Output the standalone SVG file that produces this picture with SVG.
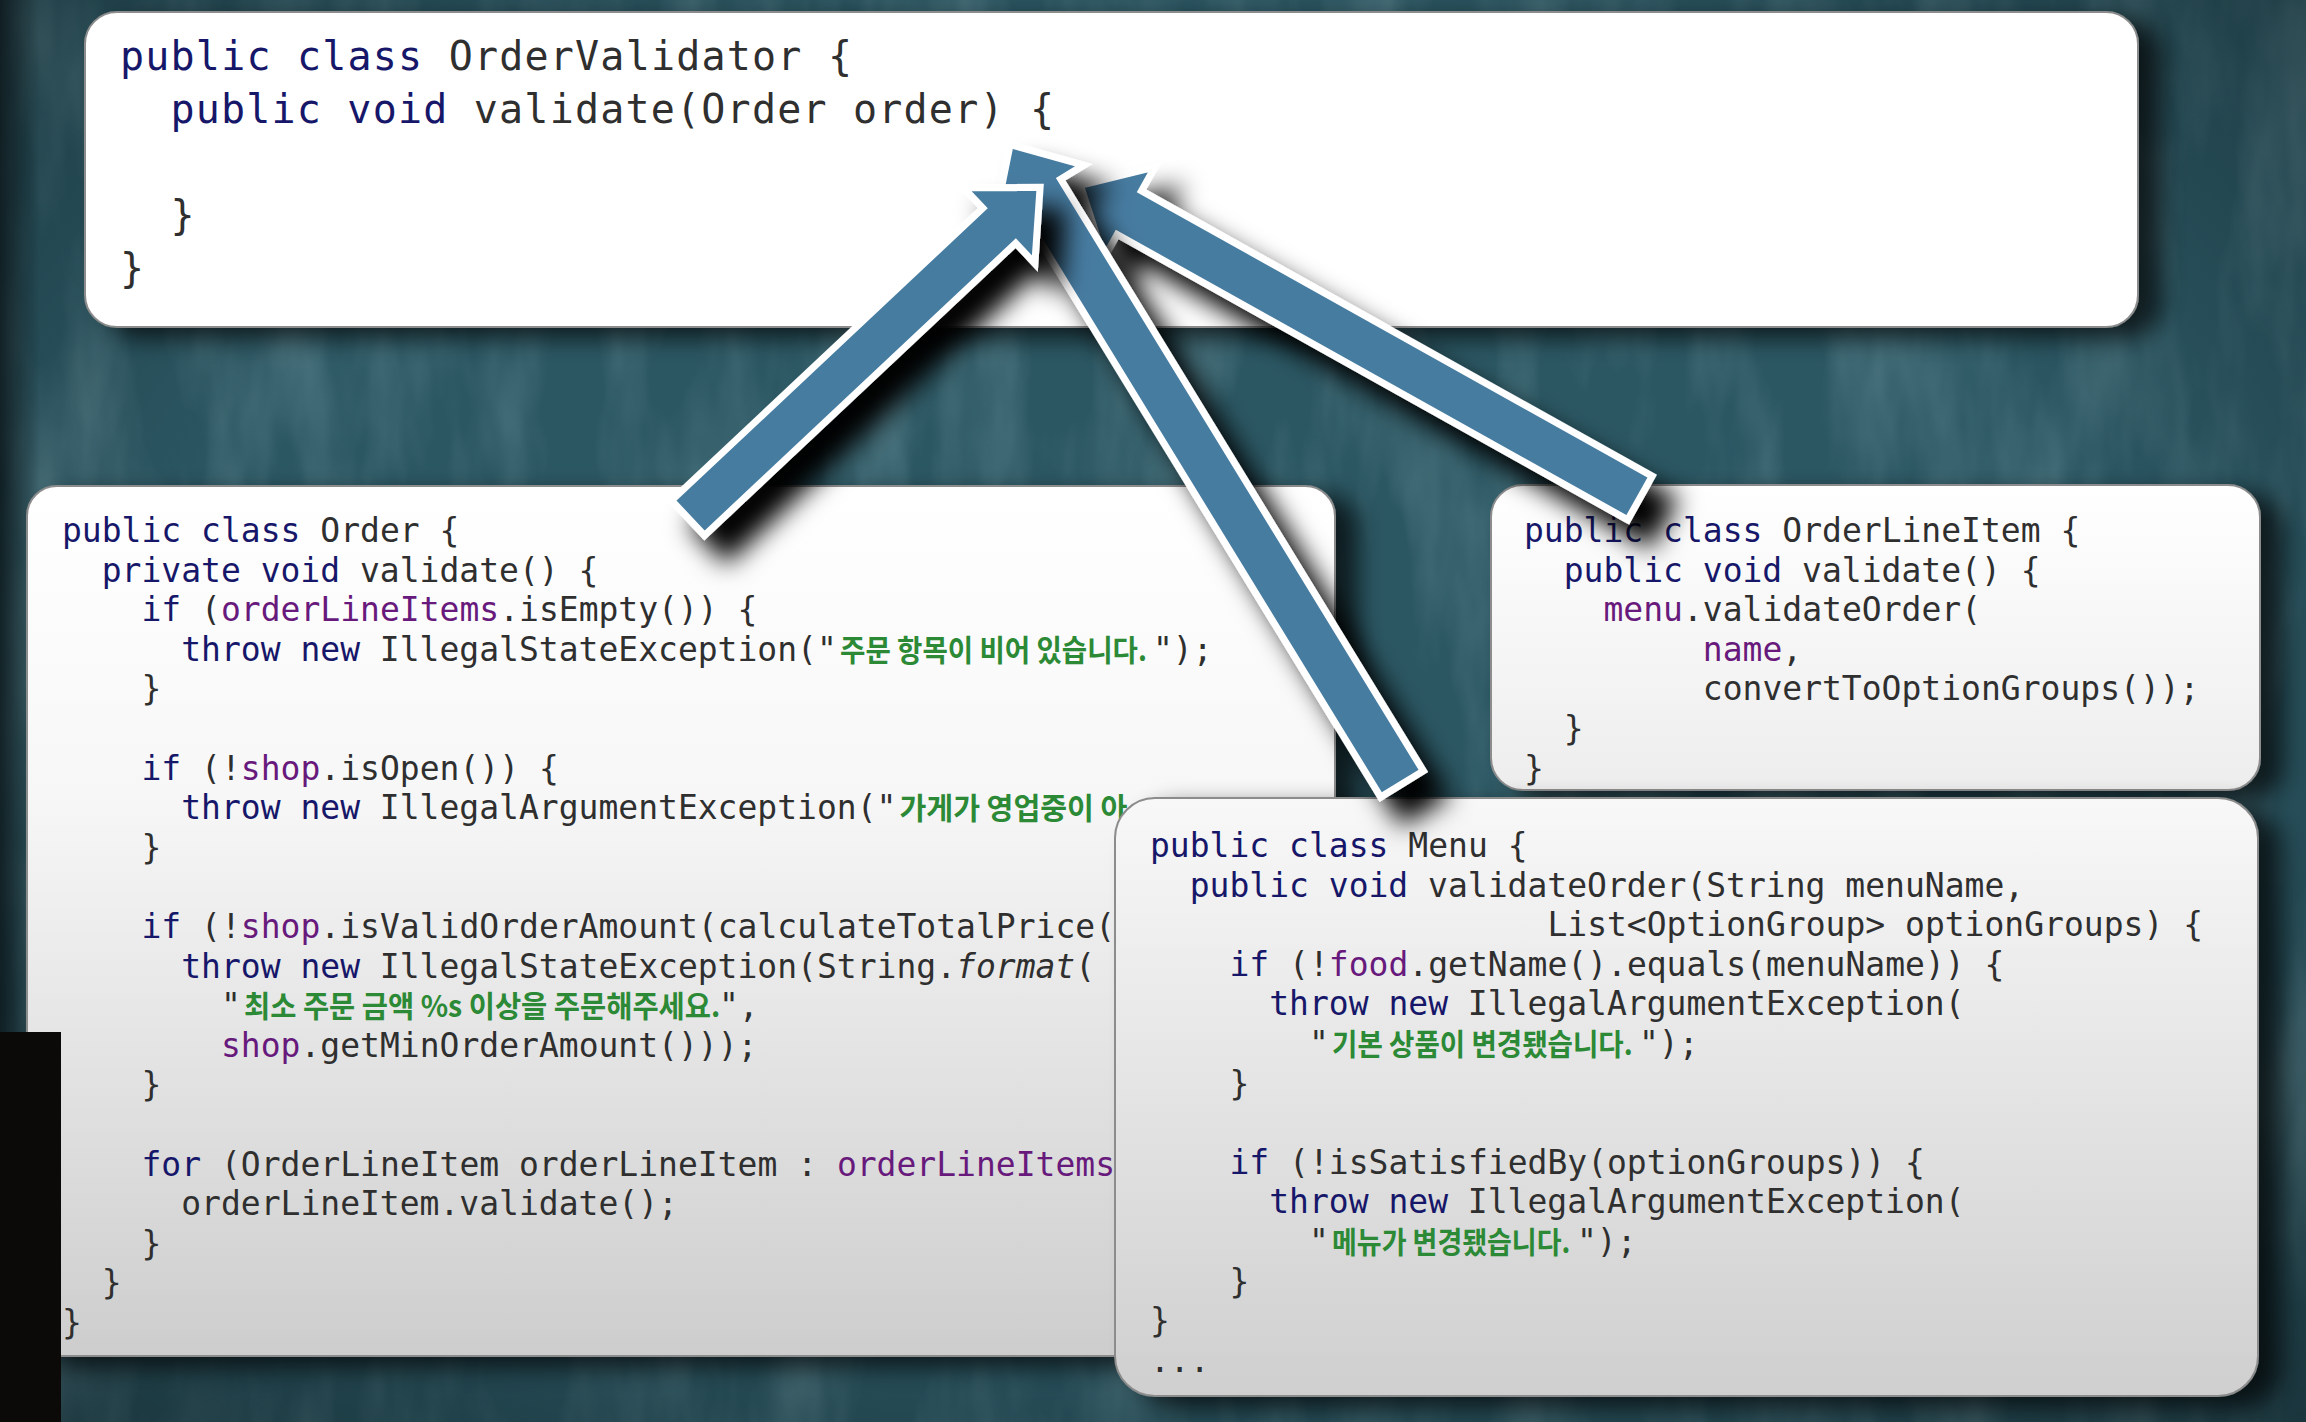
<svg xmlns="http://www.w3.org/2000/svg" width="2306" height="1422" viewBox="0 0 2306 1422">
<defs>
<style>
.c{font-family:"DejaVu Sans Mono","Liberation Mono",monospace;font-size:33px;fill:#2f2f2f}
.tb{font-size:40px;letter-spacing:1.2px}
.k{fill:#17176a}
.f{fill:#68197c}
.it{font-style:italic}
.kr{font-family:"Noto Sans CJK KR","Noto Sans",sans-serif;font-size:30px;font-weight:700;fill:#2c8a36}
.box{stroke:#8c8c8c;stroke-width:2}
.arr{fill:#467ca1;stroke:#ffffff;stroke-width:7;stroke-linejoin:miter}
</style>
<filter id="tex" filterUnits="userSpaceOnUse" x="0" y="0" width="2306" height="1422">
<feTurbulence type="fractalNoise" baseFrequency="0.012 0.0035" numOctaves="4" seed="7"/>
<feColorMatrix type="matrix" values="0 0 0 0 0.40  0 0 0 0 0.60  0 0 0 0 0.64  1.2 0 0 0 -0.48"/>
</filter>
<radialGradient id="vig" cx="50%" cy="45%" r="75%">
<stop offset="0.55" stop-color="#000" stop-opacity="0"/>
<stop offset="1" stop-color="#000" stop-opacity="0.4"/>
</radialGradient>
<linearGradient id="leftdark" x1="0" y1="0" x2="1" y2="0">
<stop offset="0" stop-color="#0b1518" stop-opacity="0.8"/>
<stop offset="1" stop-color="#0b1518" stop-opacity="0"/>
</linearGradient>
<linearGradient id="gOrder" x1="0" y1="0" x2="0" y2="1">
<stop offset="0" stop-color="#ffffff"/>
<stop offset="0.35" stop-color="#f7f7f7"/>
<stop offset="1" stop-color="#cdcdcd"/>
</linearGradient>
<linearGradient id="gMenu" x1="0" y1="0" x2="0" y2="1">
<stop offset="0" stop-color="#f8f8f8"/>
<stop offset="1" stop-color="#cfcfcf"/>
</linearGradient>
<linearGradient id="gOli" x1="0" y1="0" x2="0" y2="1">
<stop offset="0" stop-color="#ffffff"/>
<stop offset="1" stop-color="#ededed"/>
</linearGradient>
<filter id="bs" x="-5%" y="-8%" width="115%" height="125%">
<feGaussianBlur in="SourceAlpha" stdDeviation="12"/>
<feOffset dx="22" dy="10"/>
<feComponentTransfer><feFuncA type="linear" slope="0.7"/></feComponentTransfer>
<feMerge><feMergeNode/><feMergeNode in="SourceGraphic"/></feMerge>
</filter>
<filter id="as" x="-25%" y="-25%" width="160%" height="160%">
<feGaussianBlur in="SourceAlpha" stdDeviation="13"/>
<feOffset dx="22" dy="24"/>
<feComponentTransfer><feFuncA type="linear" slope="1"/></feComponentTransfer>
<feMerge><feMergeNode/><feMergeNode in="SourceGraphic"/></feMerge>
</filter>
</defs>

<g id="background">
<rect width="2306" height="1422" fill="#2b5763"/>
<rect width="2306" height="1422" fill="#000" filter="url(#tex)" opacity="0.5"/>
<rect width="2306" height="1422" fill="url(#vig)"/>
<rect width="40" height="1422" fill="url(#leftdark)"/>
</g>

<g id="node-ordervalidator">
<rect class="box" x="85" y="12" width="2053" height="315" rx="32" fill="#ffffff" filter="url(#bs)"/>
<text class="c tb" x="120" y="70"><tspan class="k">public class</tspan> OrderValidator {</text>
<text class="c tb" x="170.4" y="123"><tspan class="k">public void</tspan> validate(Order order) {</text>
<text class="c tb" x="170.4" y="229">}</text>
<text class="c tb" x="120" y="282">}</text>
</g>

<g id="node-order">
<rect class="box" x="27" y="486" width="1308" height="870" rx="30" fill="url(#gOrder)" filter="url(#bs)"/>
<text class="c" x="62" y="542"><tspan class="k">public class</tspan> Order {</text>
<text class="c" x="101.7" y="581.6"><tspan class="k">private void</tspan> validate() {</text>
<text class="c" x="141.5" y="621.2"><tspan class="k">if</tspan> (<tspan class="f">orderLineItems</tspan>.isEmpty()) {</text>
<text class="c" x="181.2" y="660.8"><tspan class="k">throw new</tspan> IllegalStateException("</text>
<text class="kr" transform="translate(840,660.8) scale(0.92,1)">주문 항목이 비어 있습니다.</text>
<text class="c" x="1153" y="660.8">");</text>
<text class="c" x="141.5" y="700.4">}</text>
<text class="c" x="141.5" y="779.6"><tspan class="k">if</tspan> (!<tspan class="f">shop</tspan>.isOpen()) {</text>
<text class="c" x="181.2" y="819.2"><tspan class="k">throw new</tspan> IllegalArgumentException("<tspan class="kr" dx="3" textLength="228" lengthAdjust="spacingAndGlyphs">가게가 영업중이 아</tspan></text>
<text class="c" x="141.5" y="858.8">}</text>
<text class="c" x="141.5" y="938"><tspan class="k">if</tspan> (!<tspan class="f">shop</tspan>.isValidOrderAmount(calculateTotalPrice(</text>
<text class="c" x="181.2" y="977.6"><tspan class="k">throw new</tspan> IllegalStateException(String.<tspan class="it">format</tspan>(</text>
<text class="c" x="221" y="1017.2">"</text>
<text class="kr" transform="translate(244,1017.2) scale(0.95,1)">최소 주문 금액 %s 이상을 주문해주세요.</text>
<text class="c" x="719" y="1017.2">",</text>
<text class="c" x="221" y="1056.8"><tspan class="f">shop</tspan>.getMinOrderAmount()));</text>
<text class="c" x="141.5" y="1096.4">}</text>
<text class="c" x="141.5" y="1175.6"><tspan class="k">for</tspan> (OrderLineItem orderLineItem : <tspan class="f">orderLineItems</tspan></text>
<text class="c" x="181.2" y="1215.2">orderLineItem.validate();</text>
<text class="c" x="141.5" y="1254.8">}</text>
<text class="c" x="101.7" y="1294.4">}</text>
<text class="c" x="62" y="1334">}</text>
</g>

<rect id="corner-block" x="0" y="1032" width="61" height="390" fill="#0c0a08"/>

<g id="node-orderlineitem">
<rect class="box" x="1491" y="485" width="769" height="305" rx="32" fill="url(#gOli)" filter="url(#bs)"/>
<text class="c" x="1524" y="542"><tspan class="k">public class</tspan> OrderLineItem {</text>
<text class="c" x="1563.7" y="581.6"><tspan class="k">public void</tspan> validate() {</text>
<text class="c" x="1603.5" y="621.2"><tspan class="f">menu</tspan>.validateOrder(</text>
<text class="c" x="1702.8" y="660.8"><tspan class="f">name</tspan>,</text>
<text class="c" x="1702.8" y="700.4">convertToOptionGroups());</text>
<text class="c" x="1563.7" y="740">}</text>
<text class="c" x="1524" y="779.6">}</text>
</g>

<g id="node-menu">
<rect class="box" x="1115" y="798" width="1143" height="598" rx="40" fill="url(#gMenu)" filter="url(#bs)"/>
<text class="c" x="1150" y="857"><tspan class="k">public class</tspan> Menu {</text>
<text class="c" x="1189.7" y="896.6"><tspan class="k">public void</tspan> validateOrder(String menuName,</text>
<text class="c" x="1547.4" y="936.2">List&lt;OptionGroup&gt; optionGroups) {</text>
<text class="c" x="1229.5" y="975.8"><tspan class="k">if</tspan> (!<tspan class="f">food</tspan>.getName().equals(menuName)) {</text>
<text class="c" x="1269.2" y="1015.4"><tspan class="k">throw new</tspan> IllegalArgumentException(</text>
<text class="c" x="1309" y="1055">"</text>
<text class="kr" transform="translate(1332,1055) scale(0.92,1)">기본 상품이 변경됐습니다.</text>
<text class="c" x="1639" y="1055">");</text>
<text class="c" x="1229.5" y="1094.6">}</text>
<text class="c" x="1229.5" y="1173.8"><tspan class="k">if</tspan> (!isSatisfiedBy(optionGroups)) {</text>
<text class="c" x="1269.2" y="1213.4"><tspan class="k">throw new</tspan> IllegalArgumentException(</text>
<text class="c" x="1309" y="1253">"</text>
<text class="kr" transform="translate(1332,1253) scale(0.9,1)">메뉴가 변경됐습니다.</text>
<text class="c" x="1577" y="1253">");</text>
<text class="c" x="1229.5" y="1292.6">}</text>
<text class="c" x="1150" y="1332.2">}</text>
<text class="c" x="1150" y="1371.8">...</text>
</g>

<g id="connectors">
<g id="arrow-orderlineitem" filter="url(#as)"><polygon class="arr" transform="translate(1640,498) rotate(-150.8)" points="0,-25 585,-25 585,-52 641,0 585,52 585,25 0,25"/></g>
<g id="arrow-menu" filter="url(#as)"><polygon class="arr" transform="translate(1402,784) rotate(-121.5)" points="0,-25 694,-25 694,-52 750,0 694,52 694,25 0,25"/></g>
<g id="arrow-order" filter="url(#as)"><polygon class="arr" transform="translate(688,518) rotate(-43.2)" points="0,-24 427,-24 427,-52 483,0 427,52 427,24 0,24"/></g>
</g>
</svg>
